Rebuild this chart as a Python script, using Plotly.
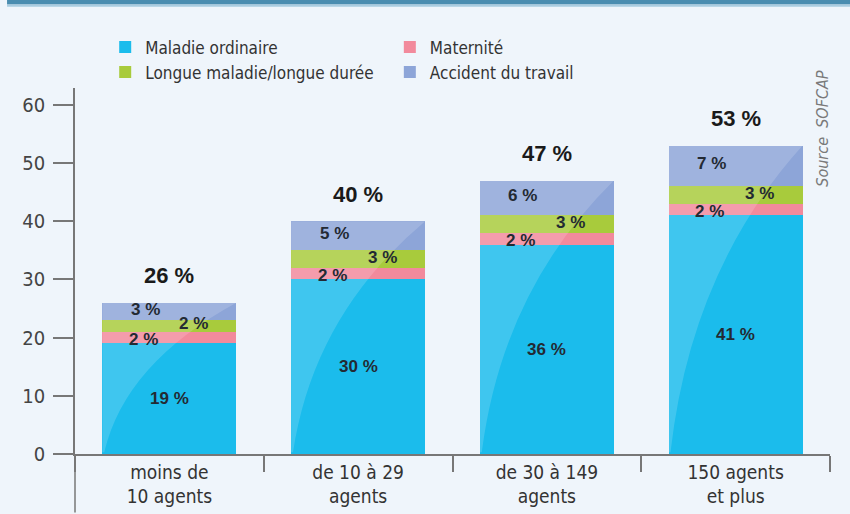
import plotly.graph_objects as go

categories = ["moins de<br>10 agents", "de 10 à 29<br>agents", "de 30 à 149<br>agents", "150 agents<br>et plus"]
maladie_ordinaire = [19, 30, 36, 41]
maternite = [2, 2, 2, 2]
longue_maladie = [2, 3, 3, 3]
accident_travail = [3, 5, 6, 7]
totals = [26, 40, 47, 53]
y_ticks = [0, 10, 20, 30, 40, 50, 60]

C_MAL = "#1BBCEC"
C_MAT = "#F28A9C"
C_LON = "#A8CB3C"
C_ACC = "#8DA5D8"

narrow = "DejaVu Sans Condensed, Liberation Sans Narrow, Arial Narrow, sans-serif"
boldf = "Liberation Sans, Arial, sans-serif"

fig = go.Figure()
series = [
    ("Maladie ordinaire", maladie_ordinaire, C_MAL, "legend"),
    ("Maternité", maternite, C_MAT, "legend2"),
    ("Longue maladie/longue durée", longue_maladie, C_LON, "legend"),
    ("Accident du travail", accident_travail, C_ACC, "legend2"),
]
for name, vals, col, lg in series:
    fig.add_trace(go.Bar(
        x=categories, y=vals, name=name, marker=dict(color=col, line=dict(width=0)),
        width=0.71, legend=lg, hoverinfo="skip"))

ann = []
for i, c in enumerate(categories):
    b0 = maladie_ordinaire[i]
    b1 = b0 + maternite[i]
    b2 = b1 + longue_maladie[i]
    b3 = b2 + accident_travail[i]
    lf = dict(family=boldf, size=17, color="#232a33")
    ann.append(dict(x=c, y=b0 / 2, text=f"<b>{maladie_ordinaire[i]} %</b>", showarrow=False, font=lf))
    ann.append(dict(x=c, y=(b0 + b1) / 2, text=f"<b>{maternite[i]} %</b>", showarrow=False, font=lf, xshift=-26, yshift=-2))
    ann.append(dict(x=c, y=(b1 + b2) / 2, text=f"<b>{longue_maladie[i]} %</b>", showarrow=False, font=lf, xshift=24, yshift=2))
    ann.append(dict(x=c, y=(b2 + b3) / 2, text=f"<b>{accident_travail[i]} %</b>", showarrow=False, font=lf, xshift=-24, yshift=2))
    ann.append(dict(x=c, y=totals[i], text=f"<b>{totals[i]} %</b>", showarrow=False,
                    font=dict(family=boldf, size=22, color="#1a1a1a"), yshift=27))

ann.append(dict(xref="paper", yref="paper", x=0.99, y=0.89, text="<i>Source  SOFCAP</i>", textangle=-90,
                showarrow=False, font=dict(family=narrow, size=16, color="#7a7a7a"),
                xanchor="center", yanchor="middle"))

shapes = [
    dict(type="rect", xref="paper", yref="paper", x0=-0.09, x1=1.1, y0=1.228, y1=1.3,
         fillcolor="#4A8DB0", line=dict(width=0), layer="below"),
    dict(type="rect", xref="paper", yref="paper", x0=-0.09, x1=1.1, y0=1.222, y1=1.228,
         fillcolor="#A9CCE0", line=dict(width=0), layer="below"),
    dict(type="line", xref="paper", yref="paper", x0=0, x1=0, y0=0, y1=-0.16,
         line=dict(color="#777", width=1.5)),
]
# gloss highlight on each bar (derived from bar index and total)
for i, t in enumerate(totals):
    x0 = i - 0.355
    x1 = i + 0.355
    path = f"M {x0+0.01},0.3 Q {x0 + 0.12},{t * 0.6} {x1},{t} L {x0},{t} L {x0},0.3 Z"
    shapes.append(dict(type="path", xref="x", yref="y", path=path,
                       fillcolor="rgba(255,255,255,0.16)", line=dict(width=0), layer="above"))

fig.update_layout(
    width=850, height=514,
    margin=dict(l=75, r=20, t=88, b=60, autoexpand=False),
    paper_bgcolor="#EFF5FB", plot_bgcolor="#EFF5FB",
    barmode="stack", bargap=0.29,
    showlegend=True,
    legend=dict(x=0.04, y=1.16, xanchor="left", yanchor="top", orientation="v",
                traceorder="normal", bgcolor="rgba(0,0,0,0)",
                font=dict(family=narrow, size=17, color="#333"), tracegroupgap=0, itemwidth=30),
    legend2=dict(x=0.417, y=1.16, xanchor="left", yanchor="top", orientation="v",
                 traceorder="normal", bgcolor="rgba(0,0,0,0)",
                 font=dict(family=narrow, size=17, color="#333"), tracegroupgap=0, itemwidth=30),
    annotations=ann, shapes=shapes,
    xaxis=dict(showline=True, linecolor="#777", linewidth=1.5, tickson="boundaries",
               ticks="outside", ticklen=16, tickcolor="#777", tickwidth=1.5,
               tickfont=dict(family=narrow, size=19, color="#333"), showgrid=False),
    yaxis=dict(range=[0, 62.9], tickvals=y_ticks, showline=True, linecolor="#777", linewidth=1.5,
               ticks="outside", ticklen=20, tickcolor="#777", tickwidth=1.5, ticklabelstandoff=4,
               tickfont=dict(family=narrow, size=20, color="#444"), showgrid=False, zeroline=False),
)

fig.write_html("out.html", config={"displayModeBar": False},
               post_script="document.body.style.margin='0';document.body.style.padding='0';")
